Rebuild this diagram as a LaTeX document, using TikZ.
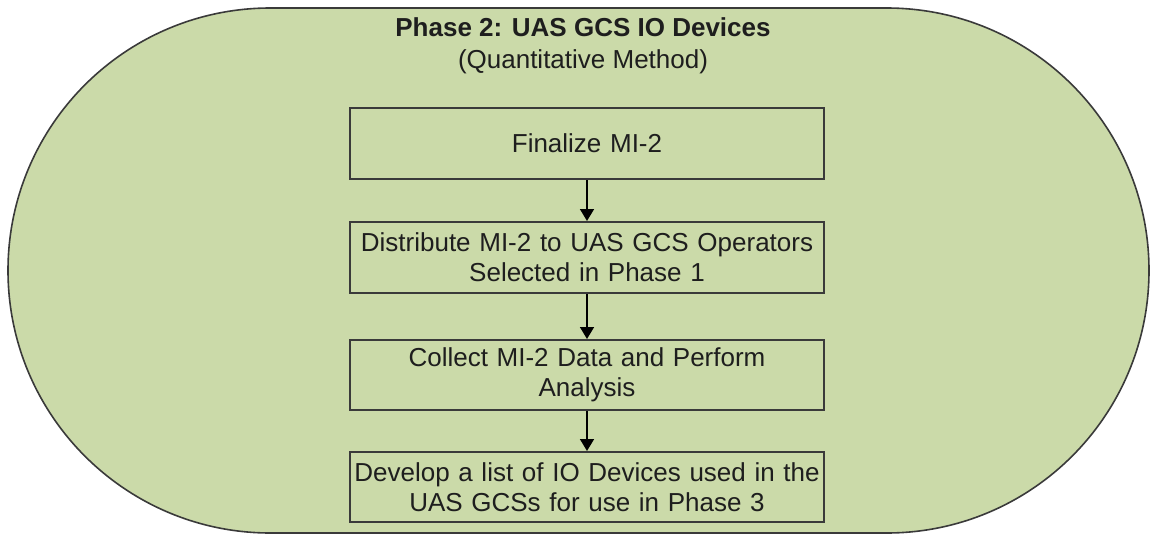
\documentclass[tikz,border=0pt]{standalone}
\usepackage{fontspec}
\setmainfont{Liberation Sans}
\usepackage{xcolor}
\usetikzlibrary{arrows.meta,positioning,shapes.misc}
\definecolor{phasegreen}{RGB}{203,218,169}
\definecolor{edgegray}{RGB}{58,58,58}
\definecolor{inkgray}{RGB}{30,30,30}

\begin{document}
\begin{tikzpicture}[x=1pt,y=-1pt,
    font=\fontsize{26}{30}\selectfont,
    phasebox/.style={rounded rectangle,draw=edgegray,line width=1.6pt,
      fill=phasegreen,minimum width=1141pt,minimum height=525pt,inner sep=0pt},
    stepbox/.style={rectangle,draw=edgegray,line width=2pt,fill=phasegreen,
      minimum width=474pt,minimum height=71pt,inner sep=2pt,
      text width=468pt,align=center,text=inkgray},
    flow/.style={-{Triangle[length=12pt,width=14pt]},line width=1.6pt,black}]
  % fixed frame = 1154 x 536 px, y grows downward
  \useasboundingbox (0,0) rectangle (1154,536);
  % outer phase shape (stadium)
  \node[phasebox] (phase) at (578.5,270.5) {};
  % heading
  \node[anchor=base,text=inkgray,font=\fontsize{26}{30}\selectfont\bfseries]
    (title) at (583,36) {Phase 2: UAS GCS IO Devices};
  \node[anchor=base,text=inkgray] (method) at (583,68) {(Quantitative Method)};
  % the four steps
  \node[stepbox] (final) at (587,143.5) {Finalize MI-2};
  \node[stepbox] (distr) at (587,257.5)
    {Distribute MI-2 to UAS GCS Operators\\Selected in Phase 1};
  \node[stepbox,minimum height=70pt] (collect) at (587,375)
    {Collect MI-2 Data and Perform\\Analysis};
  \node[stepbox,minimum height=70pt] (devlist) at (587,487)
    {Develop a list of IO Devices used in the\\UAS GCSs for use in Phase 3};
  % arrows between steps
  \draw[flow] (final) -- (distr);
  \draw[flow] (distr) -- (collect);
  \draw[flow] (collect) -- (devlist);
\end{tikzpicture}
\end{document}
